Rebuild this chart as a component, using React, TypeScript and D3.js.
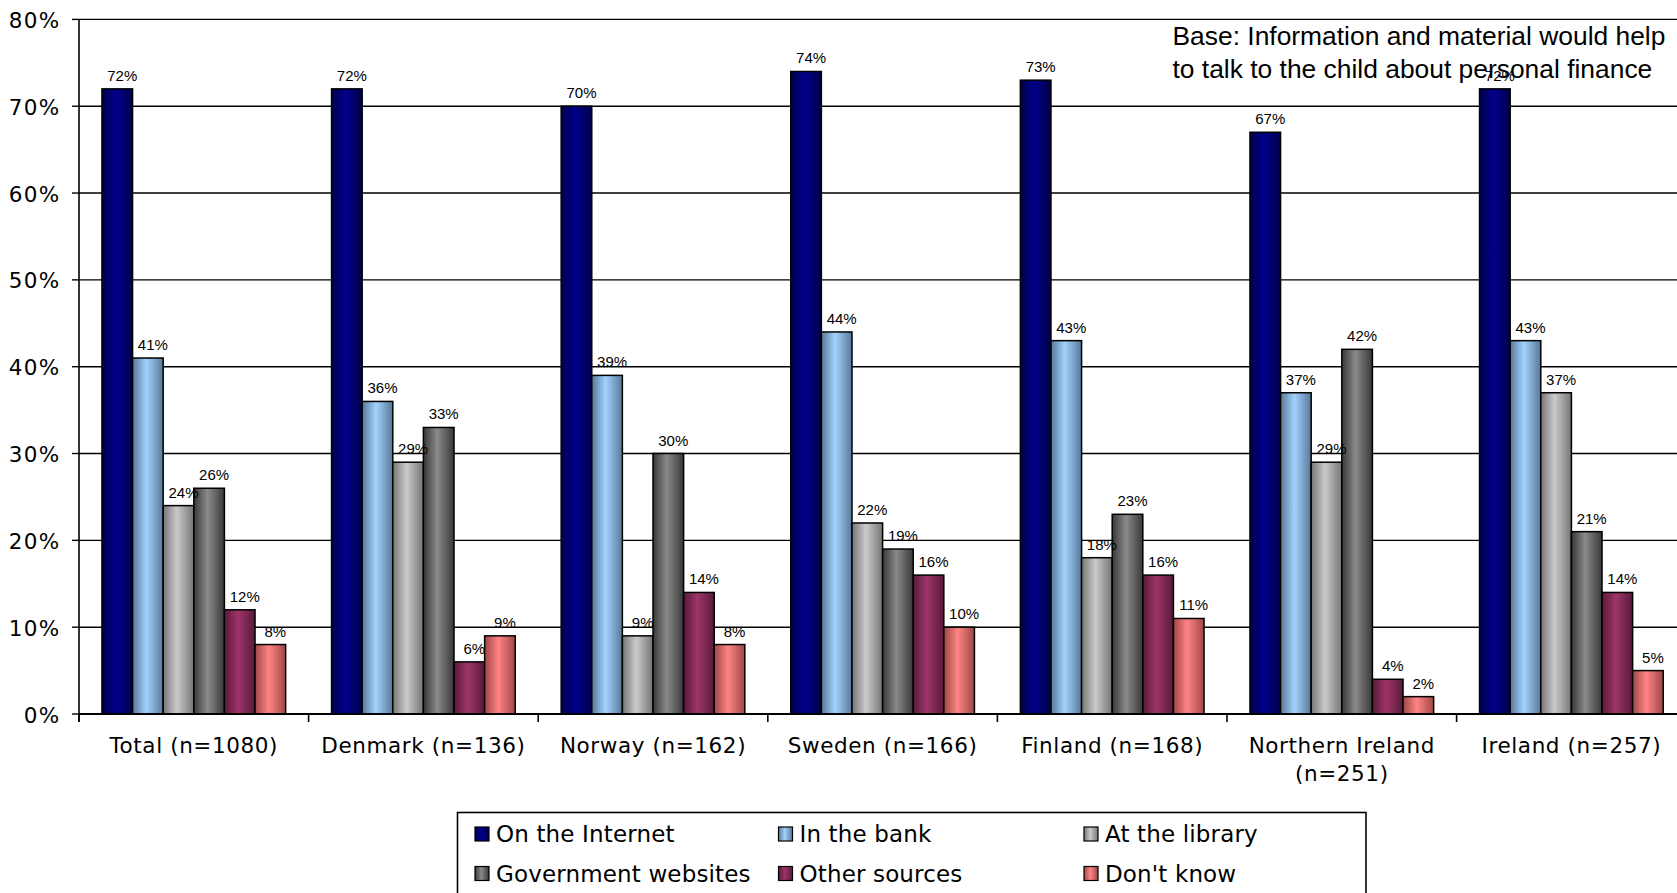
import React from 'react';
import * as d3 from 'd3';

const categories = [
  'Total (n=1080)',
  'Denmark (n=136)',
  'Norway (n=162)',
  'Sweden (n=166)',
  'Finland (n=168)',
  'Northern Ireland (n=251)',
  'Ireland (n=257)',
];

const seriesNames = [
  'On the Internet',
  'In the bank',
  'At the library',
  'Government websites',
  'Other sources',
  "Don't know",
];

const onTheInternet = [72, 72, 70, 74, 73, 67, 72];
const inTheBank = [41, 36, 39, 44, 43, 37, 43];
const atTheLibrary = [24, 29, 9, 22, 18, 29, 37];
const governmentWebsites = [26, 33, 30, 19, 23, 42, 21];
const otherSources = [12, 6, 14, 16, 16, 4, 14];
const dontKnow = [8, 9, 8, 10, 11, 2, 5];

const seriesValues = [onTheInternet, inTheBank, atTheLibrary, governmentWebsites, otherSources, dontKnow];

// [edge, centre] shades for the cylinder-like horizontal gradient of each series
const seriesShades = [
  ['#00004a', '#00008c'],
  ['#587898', '#a2d2ff'],
  ['#767676', '#cacaca'],
  ['#383838', '#8a8a8a'],
  ['#581a3a', '#9e3568'],
  ['#a04646', '#ff8484'],
];

const yTicks = [0, 10, 20, 30, 40, 50, 60, 70, 80];

const noteLines = ['Base: Information and material would help', 'to talk to the child about personal finance'];

const W = 1677;
const H = 893;
const left = 79;
const step = 229.6;
const baseY = 714;
const topY = 19.4;

const axisFont = '"DejaVu Sans", Verdana, sans-serif';
const labelFont = '"Liberation Sans", Arial, sans-serif';

function splitLabel(label: string): string[] {
  if (label.length > 18) {
    const i = label.indexOf(' (');
    return [label.slice(0, i), label.slice(i + 1)];
  }
  return [label];
}

export default function App() {
  const x0 = d3
    .scaleBand<string>()
    .domain(categories)
    .range([left, left + step * categories.length])
    .padding(0);
  const x1 = d3
    .scaleBand<string>()
    .domain(seriesNames)
    .range([0, x0.bandwidth()])
    .paddingInner(0)
    .paddingOuter(0.75);
  const y = d3.scaleLinear().domain([0, 80]).range([baseY, topY]);

  const tickXs = d3.range(categories.length + 1).map((i) => left + i * x0.step());

  const legendCols = [475, 778.5, 1084];
  const legendRows = [834, 873.5];

  return (
    <svg
      width={W}
      height={H}
      style={{ position: 'absolute', left: 0, top: 0, background: '#fff' }}
    >
      <defs>
        {seriesShades.map(([edge, mid], i) => (
          <linearGradient key={i} id={`grad${i}`} x1="0" x2="1" y1="0" y2="0">
            <stop offset="0" stopColor={edge} />
            <stop offset="0.45" stopColor={mid} />
            <stop offset="1" stopColor={edge} />
          </linearGradient>
        ))}
      </defs>

      {/* horizontal gridlines */}
      {yTicks.slice(1).map((t) => (
        <line key={t} x1={left} x2={W} y1={y(t)} y2={y(t)} stroke="#000" strokeWidth={1.4} />
      ))}

      {/* bars */}
      {categories.map((c, ci) => (
        <g key={c} transform={`translate(${x0(c)},0)`}>
          {seriesNames.map((s, si) => {
            const v = seriesValues[si][ci];
            return (
              <rect
                key={s}
                x={x1(s)}
                y={y(v)}
                width={x1.bandwidth()}
                height={baseY - y(v)}
                fill={`url(#grad${si})`}
                stroke="#000"
                strokeWidth={1.5}
              />
            );
          })}
        </g>
      ))}

      {/* value labels */}
      {categories.map((c, ci) => (
        <g key={c} transform={`translate(${x0(c)},0)`}>
          {seriesNames.map((s, si) => {
            const v = seriesValues[si][ci];
            return (
              <text
                key={s}
                x={(x1(s) as number) + x1.bandwidth() / 2 + 5}
                y={y(v) - 8}
                textAnchor="middle"
                fontFamily={labelFont}
                fontSize={15}
                fill="#000"
              >
                {v}%
              </text>
            );
          })}
        </g>
      ))}

      {/* y axis */}
      <line x1={left} x2={left} y1={topY} y2={baseY + 8} stroke="#000" strokeWidth={1.6} />
      {yTicks.map((t) => (
        <g key={t}>
          <line x1={left - 7} x2={left} y1={y(t)} y2={y(t)} stroke="#000" strokeWidth={1.4} />
          <text
            x={60.5}
            y={y(t)}
            dy="0.4em"
            textAnchor="end"
            fontFamily={axisFont}
            fontSize={21.5}
            letterSpacing={1.3}
            fill="#000"
          >
            {t}%
          </text>
        </g>
      ))}

      {/* x axis */}
      <line x1={left} x2={W} y1={baseY} y2={baseY} stroke="#000" strokeWidth={2} />
      {tickXs.map((tx, i) => (
        <line key={i} x1={tx} x2={tx} y1={baseY} y2={baseY + 8} stroke="#000" strokeWidth={1.6} />
      ))}
      {categories.map((c) => (
        <text
          key={c}
          x={(x0(c) as number) + x0.bandwidth() / 2}
          y={752.5}
          textAnchor="middle"
          fontFamily={axisFont}
          fontSize={21.5}
          letterSpacing={0.6}
          fill="#000"
        >
          {splitLabel(c).map((line, li) => (
            <tspan key={li} x={(x0(c) as number) + x0.bandwidth() / 2} dy={li === 0 ? 0 : 28}>
              {line}
            </tspan>
          ))}
        </text>
      ))}

      {/* note */}
      <text fontFamily={labelFont} fontSize={26.4} fill="#000">
        {noteLines.map((line, i) => (
          <tspan key={i} x={1172.5} y={45 + i * 33}>
            {line}
          </tspan>
        ))}
      </text>

      {/* legend */}
      <rect x={457.5} y={812.5} width={908.5} height={100} fill="#fff" stroke="#000" strokeWidth={1.6} />
      {seriesNames.map((s, i) => {
        const col = i % 3;
        const row = Math.floor(i / 3);
        const sx = legendCols[col];
        const cy = legendRows[row];
        return (
          <g key={s}>
            <rect x={sx} y={cy - 7} width={14} height={14} fill={`url(#grad${i})`} stroke="#000" strokeWidth={1.2} />
            <text x={sx + 21} y={cy + 8} fontFamily={axisFont} fontSize={23} letterSpacing={0.15} fill="#000">
              {s}
            </text>
          </g>
        );
      })}
    </svg>
  );
}
